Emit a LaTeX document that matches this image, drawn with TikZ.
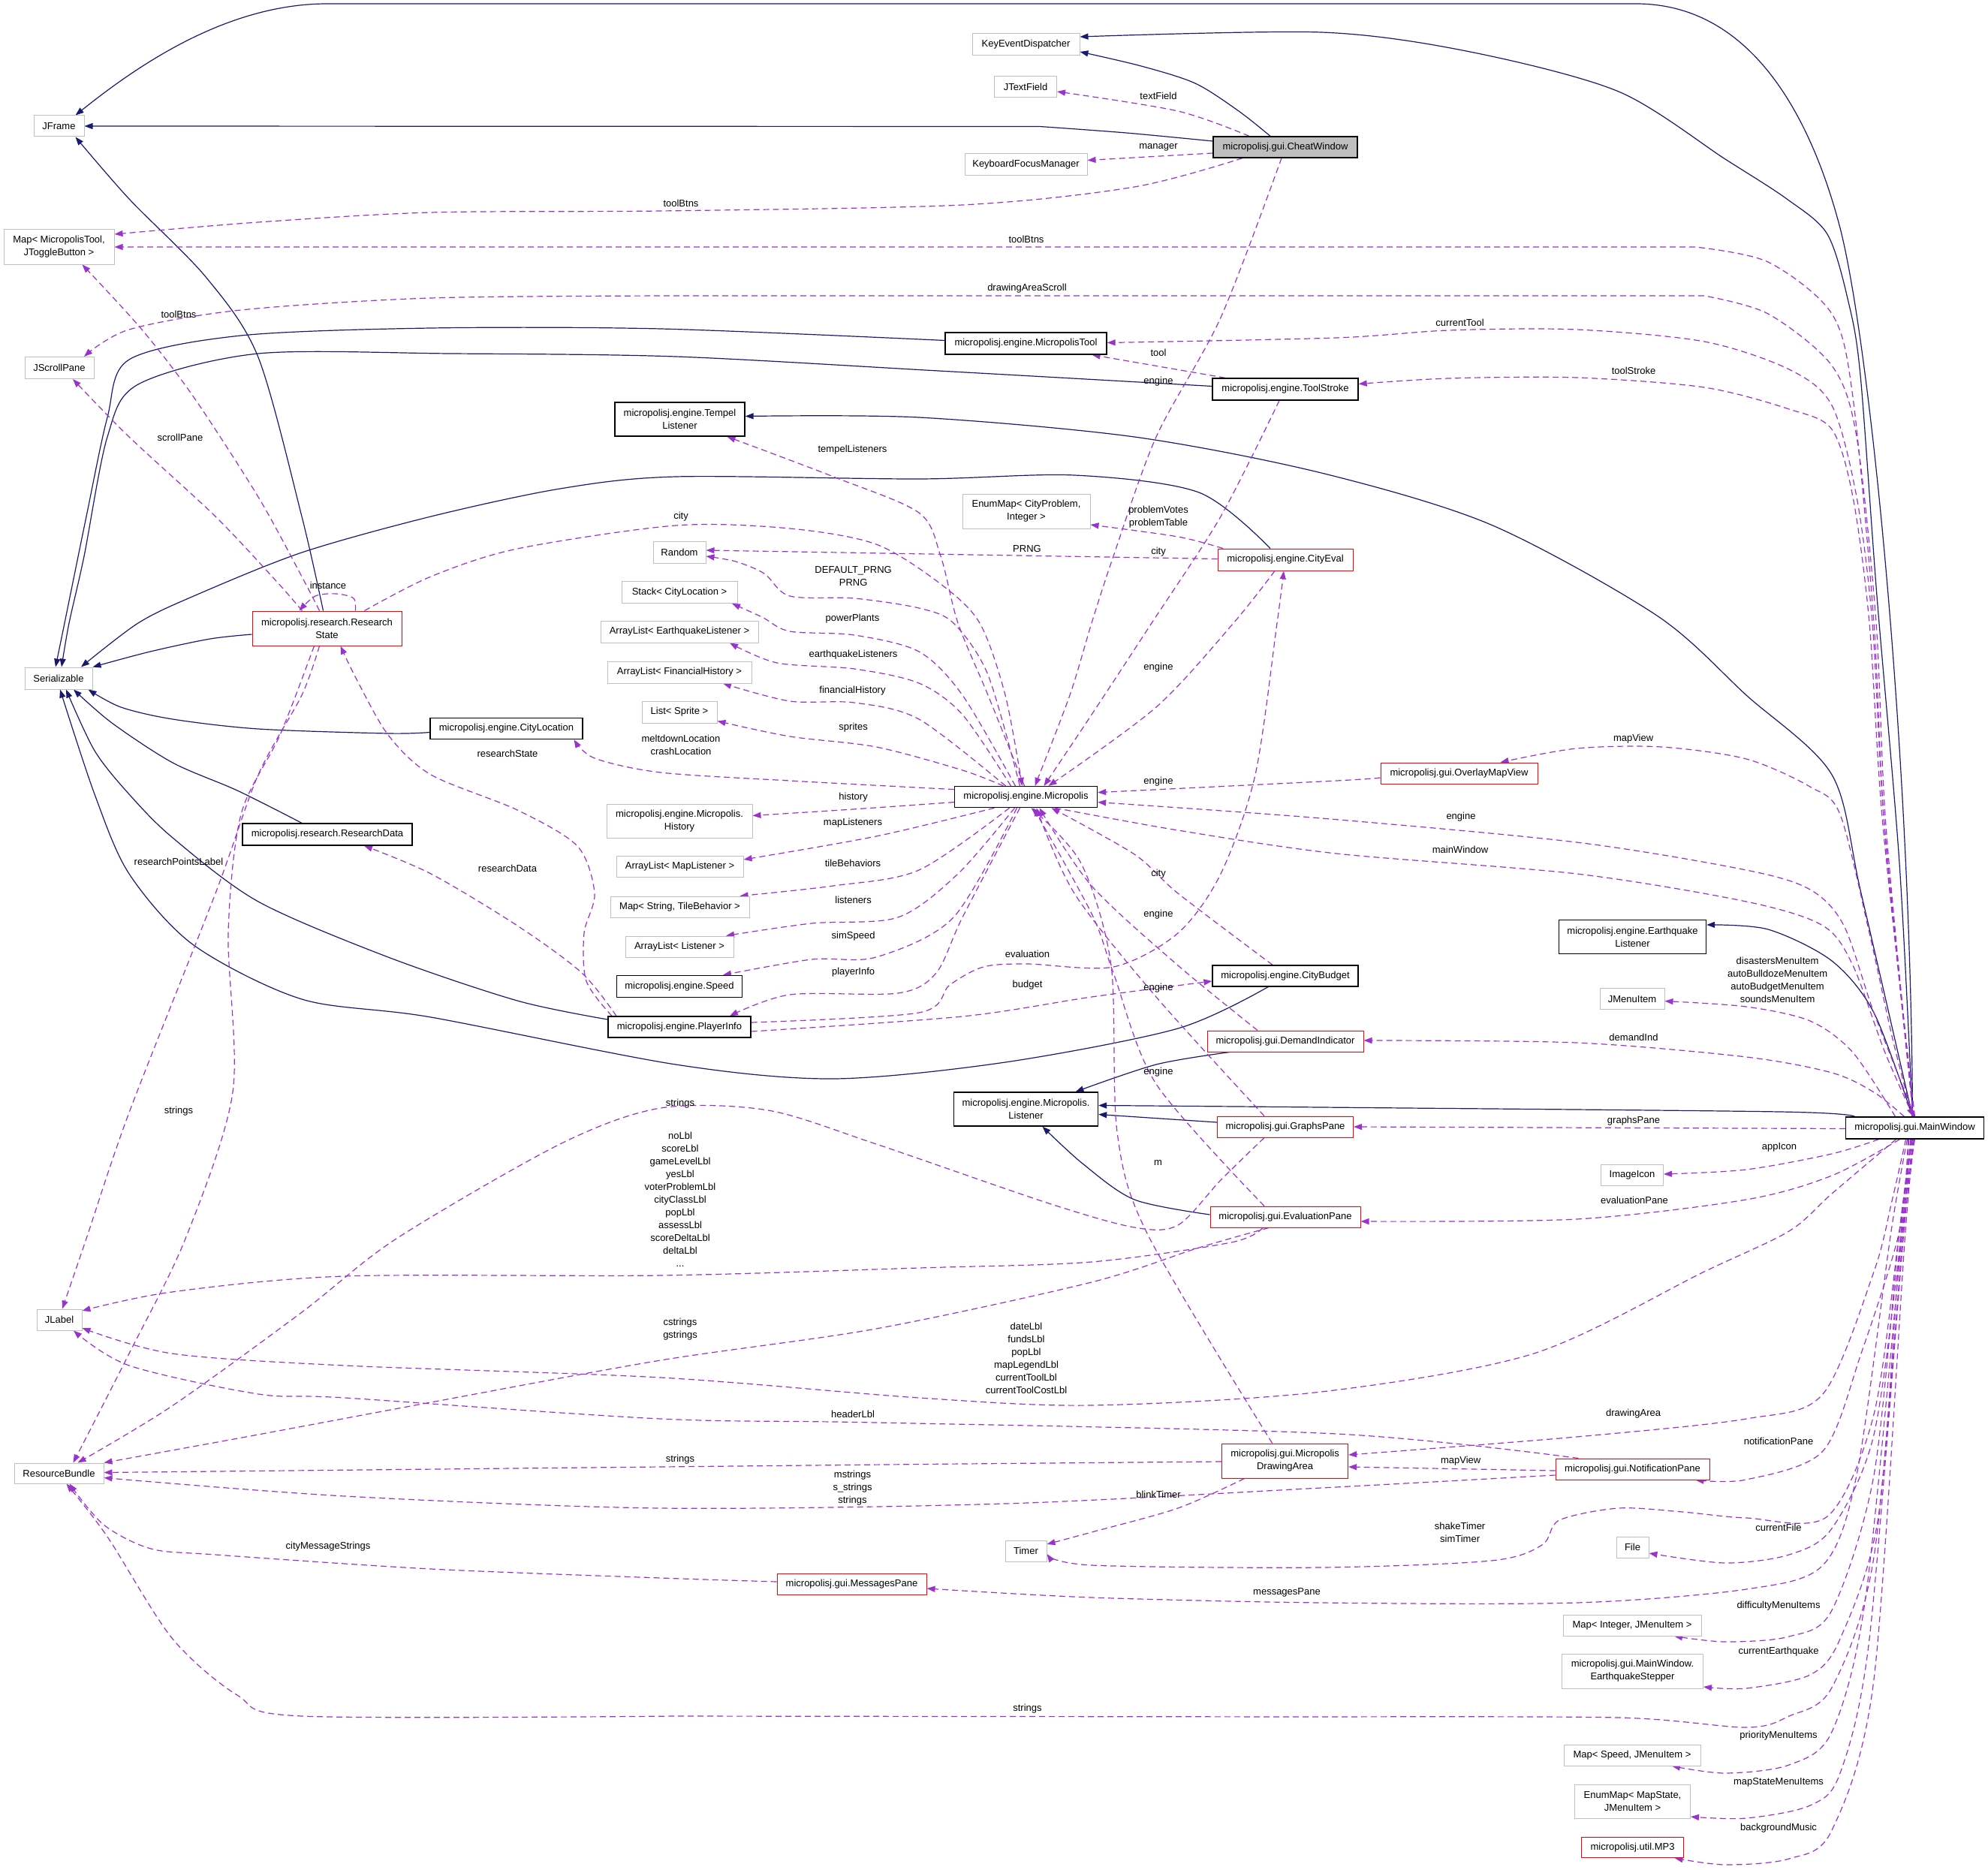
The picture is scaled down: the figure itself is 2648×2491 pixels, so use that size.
\documentclass[tikz,border=0pt]{standalone}
\usepackage{fontspec}
\setmainfont{Liberation Sans}
\usetikzlibrary{arrows.meta}
\definecolor{navyc}{HTML}{191970}
\definecolor{purpc}{HTML}{9A32CD}
\definecolor{gbord}{HTML}{BFBFBF}
\definecolor{cwfill}{HTML}{BFBFBF}
\newcommand\dgfont{\fontsize{13pt}{17pt}\selectfont}
\pgfdeclarelayer{back}\pgfdeclarelayer{edges}\pgfsetlayers{back,edges,main}
\begin{document}
\begin{tikzpicture}[x=1pt,y=-1pt,
 box/.style={rectangle, draw, fill=white, line width=1pt, inner xsep=3pt, inner ysep=2pt, align=center, font=\dgfont},
 sz/.style n args={2}{minimum width=#1pt, minimum height=#2pt},
 gbox/.style={box, draw=gbord},
 kbox/.style={box, draw=black, line width=1.3pt},
 rbox/.style={box, draw=red},
 cbox/.style={box, draw=black, fill=cwfill, line width=1.3pt},
 inh/.style={draw=navyc, line width=1.2pt, -{Triangle[length=11pt,width=8pt]}},
 dep/.style={draw=purpc, line width=1.2pt, dash pattern=on 8pt off 5pt, -{Triangle[length=11pt,width=8pt]}},
 lbl/.style={font=\dgfont, align=center, inner sep=0pt},
]
\useasboundingbox (0,0) rectangle (2648,2491);
\begin{pgfonlayer}{back}\fill[white] (0,0) rectangle (2648,2491);\end{pgfonlayer}

% ---------- nodes ----------
\node[gbox,sz={143}{29}] (KED) at (1366.5,59) {KeyEventDispatcher};
\node[gbox,sz={83}{28}] (JTF) at (1366,116) {JTextField};
\node[gbox,sz={67}{28}] (JFR) at (78.5,168) {JFrame};
\node[cbox,sz={192}{28}] (CW) at (1712,196) {micropolisj.gui.CheatWindow};
\node[gbox,sz={163}{29}] (KFM) at (1366.5,219.5) {KeyboardFocusManager};
\node[gbox,sz={147}{46}] (MAP) at (78.5,329) {Map< MicropolisTool,\\JToggleButton >};
\node[gbox,sz={92}{29}] (JSP) at (79,490) {JScrollPane};
\node[kbox,sz={215}{29}] (MT) at (1366.5,457.5) {micropolisj.engine.MicropolisTool};
\node[kbox,sz={194}{29}] (TS) at (1712,518.5) {micropolisj.engine.ToolStroke};
\node[kbox,sz={173}{45}] (TL) at (905.5,558.5) {micropolisj.engine.Tempel\\Listener};
\node[gbox,sz={170}{46}] (EMC) at (1367,681) {EnumMap< CityProblem,\\Integer >};
\node[gbox,sz={70}{29}] (RND) at (905,736) {Random};
\node[rbox,sz={180}{29}] (CE) at (1712,745.5) {micropolisj.engine.CityEval};
\node[gbox,sz={154}{29}] (STK) at (905,789) {Stack< CityLocation >};
\node[rbox,sz={199}{46}] (RS) at (435.5,837) {micropolisj.research.Research\\State};
\node[gbox,sz={210}{29}] (ALE) at (905,841.5) {ArrayList< EarthquakeListener >};
\node[gbox,sz={90}{29}] (SER) at (78,903.5) {Serializable};
\node[gbox,sz={192}{29}] (ALF) at (905,895.5) {ArrayList< FinancialHistory >};
\node[gbox,sz={100}{29}] (LSP) at (905,948.5) {List< Sprite >};
\node[kbox,sz={203}{28}] (CL) at (674.5,970.5) {micropolisj.engine.CityLocation};
\node[kbox,sz={190}{28}] (MIC) at (1366.5,1061.6) {micropolisj.engine.Micropolis};
\node[rbox,sz={209}{28}] (OMV) at (1943.5,1030) {micropolisj.gui.OverlayMapView};
\node[gbox,sz={194}{45}] (HIS) at (905,1093.5) {micropolisj.engine.Micropolis.\\History};
\node[kbox,sz={226}{29}] (RD) at (436,1111.5) {micropolisj.research.ResearchData};
\node[gbox,sz={169}{28}] (ALM) at (905.5,1154) {ArrayList< MapListener >};
\node[gbox,sz={185}{28}] (MST) at (905.5,1208) {Map< String, TileBehavior >};
\node[gbox,sz={144}{28}] (ALL) at (905,1261) {ArrayList< Listener >};
\node[kbox,sz={196}{45}] (EQL) at (2174.5,1248) {micropolisj.engine.Earthquake\\Listener};
\node[kbox,sz={167}{29}] (SPD) at (905,1314) {micropolisj.engine.Speed};
\node[kbox,sz={194}{28}] (CB) at (1712,1300) {micropolisj.engine.CityBudget};
\node[kbox,sz={190}{28}] (PI) at (905,1368) {micropolisj.engine.PlayerInfo};
\node[gbox,sz={86}{28}] (JMI) at (2174,1330.6) {JMenuItem};
\node[rbox,sz={208}{28}] (DI) at (1712,1387) {micropolisj.gui.DemandIndicator};
\node[kbox,sz={192}{45}] (LIS) at (1366.5,1477.5) {micropolisj.engine.Micropolis.\\Listener};
\node[rbox,sz={181}{28}] (GP) at (1712,1501) {micropolisj.gui.GraphsPane};
\node[kbox,sz={184}{29}] (MW) at (2550.5,1502.5) {micropolisj.gui.MainWindow};
\node[gbox,sz={83}{28}] (ICO) at (2174,1565) {ImageIcon};
\node[rbox,sz={200}{28}] (EP) at (1712,1621) {micropolisj.gui.EvaluationPane};
\node[gbox,sz={60}{28}] (JL) at (79,1758) {JLabel};
\node[rbox,sz={168}{46}] (DA) at (1711.6,1946) {micropolisj.gui.Micropolis\\DrawingArea};
\node[rbox,sz={205}{28}] (NP) at (2174.5,1957) {micropolisj.gui.NotificationPane};
\node[gbox,sz={119}{27}] (RB) at (78.5,1962.5) {ResourceBundle};
\node[gbox,sz={55}{28}] (TMR) at (1366.5,2066) {Timer};
\node[gbox,sz={43}{28}] (FIL) at (2174.5,2061) {File};
\node[rbox,sz={199}{28}] (MSG) at (1134.5,2110) {micropolisj.gui.MessagesPane};
\node[gbox,sz={184}{28}] (MIJ) at (2174,2165) {Map< Integer, JMenuItem >};
\node[gbox,sz={188}{46}] (EQS) at (2174.5,2226) {micropolisj.gui.MainWindow.\\EarthquakeStepper};
\node[gbox,sz={182}{28}] (MSJ) at (2174,2338) {Map< Speed, JMenuItem >};
\node[gbox,sz={154}{45}] (EMS) at (2174.5,2400) {EnumMap< MapState,\\JMenuItem >};
\node[rbox,sz={136}{27}] (MP3) at (2174.5,2461) {micropolisj.util.MP3};

% ---------- labels ----------
\node[lbl] (l01) at (1543,128) {textField};
\node[lbl] (l02) at (1543,196) {manager};
\node[lbl] (l03) at (907,271) {toolBtns};
\node[lbl] (l04) at (1367,319) {toolBtns};
\node[lbl] (l05) at (1368,384) {drawingAreaScroll};
\node[lbl] (l06) at (238,419) {toolBtns};
\node[lbl] (l07) at (1944.6,430) {currentTool};
\node[lbl] (l08) at (1543,470) {tool};
\node[lbl] (l09) at (2176,494) {toolStroke};
\node[lbl] (l10) at (1543,508) {engine};
\node[lbl] (l11) at (240,583) {scrollPane};
\node[lbl] (l12) at (1135.5,599) {tempelListeners};
\node[lbl] (l13) at (1543,689) {problemVotes\\problemTable};
\node[lbl] (l14) at (907,688) {city};
\node[lbl] (l15) at (1368,731) {PRNG};
\node[lbl] (l16) at (1543,735) {city};
\node[lbl] (l17) at (1136.6,767.5) {DEFAULT\_PRNG\\PRNG};
\node[lbl] (l18) at (437,780) {instance};
\node[lbl] (l19) at (1135.5,824) {powerPlants};
\node[lbl] (l20) at (1136.6,872) {earthquakeListeners};
\node[lbl] (l21) at (1543,889) {engine};
\node[lbl] (l22) at (1135.5,920) {financialHistory};
\node[lbl] (l23) at (1136.6,969) {sprites};
\node[lbl] (l24) at (2175.6,984.6) {mapView};
\node[lbl] (l25) at (907,992) {meltdownLocation\\crashLocation};
\node[lbl] (l26) at (676,1004) {researchState};
\node[lbl] (l27) at (1543,1041) {engine};
\node[lbl] (l28) at (1136.6,1062.5) {history};
\node[lbl] (l29) at (1946,1088) {engine};
\node[lbl] (l30) at (1136,1096) {mapListeners};
\node[lbl] (l31) at (1945,1132) {mainWindow};
\node[lbl] (l32) at (238,1148) {researchPointsLabel};
\node[lbl] (l33) at (1136,1150) {tileBehaviors};
\node[lbl] (l34) at (676,1157) {researchData};
\node[lbl] (l35) at (1543,1164) {city};
\node[lbl] (l36) at (1136.6,1199) {listeners};
\node[lbl] (l37) at (1543,1218.6) {engine};
\node[lbl] (l38) at (1136.6,1247) {simSpeed};
\node[lbl] (l39) at (1368.5,1270.5) {evaluation};
\node[lbl] (l40) at (1136.6,1295) {playerInfo};
\node[lbl] (l41) at (2367.6,1305.5) {disastersMenuItem\\autoBulldozeMenuItem\\autoBudgetMenuItem\\soundsMenuItem};
\node[lbl] (l42) at (1368.5,1312) {budget};
\node[lbl] (l43) at (1543,1316.6) {engine};
\node[lbl] (l44) at (2176,1382) {demandInd};
\node[lbl] (l45) at (1543,1427.7) {engine};
\node[lbl] (l46) at (906,1470.6) {strings};
\node[lbl] (l47) at (238,1480) {strings};
\node[lbl] (l48) at (2176,1493) {graphsPane};
\node[lbl] (l49) at (2370,1528) {appIcon};
\node[lbl] (l50) at (1542.5,1549) {m};
\node[lbl] (l51) at (906,1597.5) {noLbl\\scoreLbl\\gameLevelLbl\\yesLbl\\voterProblemLbl\\cityClassLbl\\popLbl\\assessLbl\\scoreDeltaLbl\\deltaLbl\\...};
\node[lbl] (l52) at (2177,1599) {evaluationPane};
\node[lbl] (l53) at (906,1771) {cstrings\\gstrings};
\node[lbl] (l54) at (1367,1809) {dateLbl\\fundsLbl\\popLbl\\mapLegendLbl\\currentToolLbl\\currentToolCostLbl};
\node[lbl] (l55) at (2175.6,1883) {drawingArea};
\node[lbl] (l56) at (1136,1884) {headerLbl};
\node[lbl] (l57) at (2369,1920) {notificationPane};
\node[lbl] (l58) at (906,1944) {strings};
\node[lbl] (l59) at (1945.7,1946) {mapView};
\node[lbl] (l60) at (1135.5,1982) {mstrings\\s\_strings\\strings};
\node[lbl] (l61) at (1543,1990.5) {blinkTimer};
\node[lbl] (l62) at (2369,2035) {currentFile};
\node[lbl] (l63) at (1944.6,2041) {shakeTimer\\simTimer};
\node[lbl] (l64) at (437,2060.5) {cityMessageStrings};
\node[lbl] (l65) at (1714,2121) {messagesPane};
\node[lbl] (l66) at (2369,2139) {difficultyMenuItems};
\node[lbl] (l67) at (2369,2200) {currentEarthquake};
\node[lbl] (l68) at (1368.5,2276.5) {strings};
\node[lbl] (l69) at (2369,2312) {priorityMenuItems};
\node[lbl] (l70) at (2369,2374) {mapStateMenuItems};
\node[lbl] (l71) at (2369,2435) {backgroundMusic};

\begin{pgfonlayer}{edges}
% ---------- inheritance ----------
\draw[inh] ([xshift=-3pt]MW.north) .. controls (2545,1000) and (2490,450) .. (2450,300) .. controls (2410,150) and (2330,5) .. (2179,5) -- (436,5) .. controls (300,5) and (180,90) .. ([xshift=22pt]JFR.north);
\draw[inh] plot[smooth,tension=.5] coordinates {([yshift=8pt]CW.west) (1500,177) (1385,168.5)} -- (JFR.east);
\draw[inh] plot[smooth,tension=.5] coordinates {([xshift=-20pt]CW.north) (1650,148) (1592,111) (1520,88) ([yshift=-10pt]KED.east)};
\draw[inh] plot[smooth,tension=.5] coordinates {([xshift=-3pt]MW.north) (2530,1150) (2500,794) (2478,500) (2462,402) (2434,312) (2380,265) (2298,212) (2156,122) (1958,69) (1760,43) ([yshift=10pt]KED.east)};
\draw[inh] plot[smooth,tension=.5] coordinates {([xshift=-5pt]RS.north) (402,688) (344,476) (275,370) (172,265) ([xshift=22pt]JFR.south)};
\draw[inh] plot[smooth,tension=.5] coordinates {([yshift=-8pt]RS.west) (280,851) (200,868) (SER.north east)};
\draw[inh] plot[smooth,tension=.5] coordinates {([yshift=4pt]MT.west) (880,438) (574,437) (321,447) (172,479) (143,556) (115,688) (86,830) ([xshift=-4pt]SER.north)};
\draw[inh] plot[smooth,tension=.5] coordinates {([yshift=4pt]TS.west) (1250,494) (900,475) (600,471) (344,471) (184,512) (143,582) (112,741) (92,830) ([xshift=4pt]SER.north)};
\draw[inh] plot[smooth,tension=.5] coordinates {([xshift=-20pt]CE.north) (1597,656) (1431,633) (1224,638) (900,635) (746,651) (574,688) (402,736) (258,794) (184,830) ([xshift=30pt]SER.north)};
\draw[inh] plot[smooth,tension=.5] coordinates {([yshift=-5pt]CL.west) (517,977) (344,971) (230,958) (161,942) ([xshift=-6pt]SER.south east)};
\draw[inh] plot[smooth,tension=.5] coordinates {([xshift=-34pt]RD.north) (316,1053) (230,1016) (149,963) ([xshift=20pt]SER.south)};
\draw[inh] plot[smooth,tension=.5] coordinates {([yshift=10pt]PI.west) (689,1333) (517,1275) (344,1201) (230,1116) (172,1058) (126,1000) ([xshift=10pt]SER.south)};
\draw[inh] plot[smooth,tension=.5] coordinates {([xshift=-23pt]CB.south) (1569,1370) (1339,1415) (1110,1437) (900,1418) (574,1355) (402,1331) (258,1259) (172,1164) (126,1058) ([xshift=2pt]SER.south)};
\draw[inh] plot[smooth,tension=.5] coordinates {([xshift=-3pt]MW.north) (2479,1190) (2440,1032) (2326,926) (2207,820) (1986,699) (1760,630) (1511,582) (1224,556) ([yshift=4pt]TL.east)};
\draw[inh] plot[smooth,tension=.5] coordinates {([xshift=-3pt]MW.north) (2496,1349) (2440,1280) (2355,1238) ([yshift=16pt]EQL.east)};
\draw[inh] plot[smooth,tension=.5] coordinates {([xshift=-80pt]MW.north) (2371,1481) (1760,1475) ([yshift=5pt]LIS.east)};
\draw[inh] plot[smooth,tension=.5] coordinates {([xshift=-74pt]DI.south) (1540,1418) ([xshift=66pt]LIS.north)};
\draw[inh] ([yshift=6pt]GP.west) -- ([yshift=-7pt]LIS.east);
\draw[inh] plot[smooth,tension=.5] coordinates {([yshift=3pt]EP.west) (1511,1598) (1442,1550) ([xshift=22pt]LIS.south)};

% ---------- usage ----------
\draw[dep] plot[smooth,tension=.5] coordinates {([xshift=-48pt]CW.north) (1569,148) ([yshift=-6pt]JTF.east)};
\draw[dep] ([yshift=-8pt]CW.west) -- ([yshift=6pt]KFM.east);
\draw[dep] plot[smooth,tension=.5] coordinates {([xshift=-57pt]CW.south) (1511,249) (1282,273) (880,281) (574,283) (344,296) ([yshift=17pt]MAP.east)};
\draw[dep] plot[smooth,tension=.5] coordinates {([xshift=-2pt]MW.north) (2510,1100) (2496,830) (2468,529) (2440,418) (2355,349) (2258,329)} -- (MAP.east);
\draw[dep] plot[smooth,tension=.5] coordinates {([xshift=-2pt]MW.north) (2512,1100) (2499,830) (2473,582) (2440,487) (2355,418) (2270,394)} -- plot[smooth,tension=.5] coordinates {(900,394) (574,397) (321,413) (172,439) ([xshift=33pt]JSP.north)};
\draw[dep] plot[smooth,tension=.5] coordinates {([xshift=-1pt]MW.north) (2510,1100) (2494,830) (2473,662) (2440,540) (2383,492) (2270,455) (2100,439) (1930,440) (1780,450) ([yshift=1pt]MT.east)};
\draw[dep] plot[smooth,tension=.5] coordinates {(MW.north) (2508,1100) (2490,830) (2468,662) (2440,572) (2383,545) (2270,516) (2100,503) (1930,504) ([yshift=7pt]TS.east)};
\draw[dep] ([xshift=-80pt]TS.north) -- ([xshift=88pt]MT.south);
\draw[dep] plot[smooth,tension=.5] coordinates {([xshift=-8pt]TS.south) (1626,688) (1534,830) (1454,952) ([xshift=24pt]MIC.north)};
\draw[dep] plot[smooth,tension=.5] coordinates {([xshift=-5pt]CW.south) (1626,423) (1540,582) (1483,741) (1454,830) (1425,926) ([xshift=12pt]MIC.north)};
\draw[dep] plot[smooth,tension=.5] coordinates {([xshift=-2pt]MIC.north) (1316,926) (1276,830) (1253,741) (1224,683) (1110,635) ([xshift=63pt]TL.south)};
\draw[dep] plot[smooth,tension=.5] coordinates {([xshift=50pt]RS.north) (574,768) (689,731) (900,700) (1052,704) (1167,725) (1253,778) (1305,830) (1339,926) ([xshift=-5pt]MIC.north)};
\draw[dep] ([yshift=1pt]CE.west) -- ([yshift=3pt]RND.east);
\draw[dep] plot[smooth,tension=.5] coordinates {([xshift=-14pt]CE.south) (1643,830) (1540,942) ([xshift=30pt]MIC.north)};
\draw[dep] plot[smooth,tension=.5] coordinates {([yshift=6pt]PI.east) (1224,1349) (1265,1312) (1310,1288) (1368,1284) (1483,1288) (1569,1243) (1626,1164) (1672,1032) (1701,830) ([xshift=-2pt]CE.south)};
\draw[dep] plot[smooth,tension=.5] coordinates {([xshift=-8pt]MIC.north) (1316,899) (1270,830) (1224,810) (1138,797) (1052,794) (1018,764) (980,748) ([yshift=-5pt]RND.east)};
\draw[dep] plot[smooth,tension=.5] coordinates {([xshift=-14pt]MIC.north) (1282,926) (1224,868) (1138,846) (1052,841) (1015,822) ([xshift=70pt]STK.south)};
\draw[dep] plot[smooth,tension=.5] coordinates {([xshift=-20pt]MIC.north) (1282,952) (1224,910) (1138,891) (1035,883) ([xshift=67pt]ALE.south)};
\draw[dep] plot[smooth,tension=.5] coordinates {([xshift=-27pt]MIC.north) (1224,958) (1138,936) (1052,934) ([xshift=58pt]ALF.south)};
\draw[dep] plot[smooth,tension=.5] coordinates {([xshift=-30pt]MIC.north) (1282,1026) (1167,995) (1052,981) ([yshift=-12pt]LSP.east)};
\draw[dep] plot[smooth,tension=.5] coordinates {([yshift=10pt]MIC.west) (1052,1040) (880,1029) (792,1010) ([xshift=90pt]CL.south)};
\draw[dep] plot[smooth,tension=.5] coordinates {([yshift=-7pt]MIC.west) (1136,1078) ([yshift=7pt]HIS.east)};
\draw[dep] plot[smooth,tension=.5] coordinates {([xshift=-42pt]MIC.south) (1167,1114) ([yshift=9pt]ALM.east)};
\draw[dep] plot[smooth,tension=.5] coordinates {([xshift=-22pt]MIC.south) (1224,1159) (1110,1180) ([xshift=80pt]MST.north)};
\draw[dep] plot[smooth,tension=.5] coordinates {([xshift=-15pt]MIC.south) (1276,1164) (1196,1222) (1081,1230) ([xshift=62pt]ALL.north)};
\draw[dep] plot[smooth,tension=.5] coordinates {([xshift=-12pt]MIC.south) (1270,1222) (1167,1275) (1081,1278) ([xshift=58pt]SPD.north)};
\draw[dep] plot[smooth,tension=.5] coordinates {([xshift=-8pt]MIC.south) (1282,1222) (1247,1296) (1196,1323) (1052,1325) ([xshift=67pt]PI.north)};
\draw[dep] plot[smooth,tension=.5] coordinates {([yshift=-6pt]PI.east) (1282,1354) (1454,1328) ([yshift=-7pt]CB.west)};
\draw[dep] plot[smooth,tension=.5] coordinates {([xshift=-90pt]PI.north) (781,1307) (778,1243) (792,1190) (769,1127) (689,1079) (574,1032) (517,979) (475,905) ([xshift=18pt]RS.south)};
\draw[dep] plot[smooth,tension=.5] coordinates {([xshift=-84pt]PI.north) (775,1296) (689,1233) (574,1164) ([xshift=49pt]RD.south)};
\draw[dep] plot[smooth,tension=.5] coordinates {([xshift=-10pt]RS.north) (402,768) (344,662) (258,529) (189,439) ([xshift=31pt]MAP.south)};
\draw[dep] plot[smooth,tension=.5] coordinates {([xshift=-33pt]RS.north) (367,773) (287,688) (172,582) ([xshift=18pt]JSP.south)};
\draw[dep] plot[smooth,tension=.5] coordinates {([xshift=38pt]RS.north) (471,797) (448,791) (420,794) ([xshift=-37pt]RS.north)};
\draw[dep] plot[smooth,tension=.5] coordinates {([xshift=-10pt]RS.south) (402,926) (344,1032) (287,1190) (172,1482) (115,1650) ([xshift=4pt]JL.north)};
\draw[dep] plot[smooth,tension=.5] coordinates {([xshift=-17pt]RS.south) (373,979) (321,1085) (304,1243) (310,1455) (247,1650) (172,1803) ([xshift=19pt]RB.north)};
\draw[dep] plot[smooth,tension=.5] coordinates {([xshift=-30pt]EP.south) (1640,1655) (1454,1681) (1224,1689) (880,1699) (459,1700) (229,1721) ([yshift=12pt]JL.east)};
\draw[dep] plot[smooth,tension=.5] coordinates {([xshift=-22pt]EP.south) (1597,1662) (1454,1708) (1167,1770) (880,1812) (574,1868) (344,1911) (RB.north east)};
\draw[dep] plot[smooth,tension=.5] coordinates {([xshift=-25pt]MW.south) (2440,1590) (2383,1640) (2270,1694) (2043,1803) (1760,1854) (1454,1872) (1224,1862) (880,1835) (459,1819) (229,1803) ([yshift=-11pt]JL.east)};
\draw[dep] plot[smooth,tension=.5] coordinates {([xshift=-72pt]NP.north) (1780,1910) (1167,1895) (880,1890) (459,1862) (344,1857) (172,1819) ([xshift=19pt]JL.south)};
\draw[dep] plot[smooth,tension=.5] coordinates {([yshift=-1pt]DA.west) (1282,1950) (880,1954) ([yshift=1pt]RB.east)};
\draw[dep] plot[smooth,tension=.5] coordinates {([yshift=-8pt]NP.west) (1760,1982) (1339,2003) (880,2009) (459,1993) ([yshift=-6pt]RB.east)};
\draw[dep] plot[smooth,tension=.5] coordinates {([xshift=-54pt]DA.south) (1569,2009) (1454,2041) ([yshift=9pt]TMR.east)};
\draw[dep] plot[smooth,tension=.5] coordinates {([xshift=-5pt]MW.south) (2530,1640) (2496,1884) (2434,2020) (2326,2022) (2241,2014) (2156,2009) (2077,2025) (2054,2058) (1986,2079) (1760,2088) (1454,2085) ([yshift=-4pt]TMR.east)};
\draw[dep] plot[smooth,tension=.5] coordinates {([xshift=-8pt]MW.south) (2533,1640) (2496,1911) (2440,2036) (2383,2071) (2298,2082) ([yshift=-8pt]FIL.east)};
\draw[dep] plot[smooth,tension=.5] coordinates {([xshift=-10pt]MW.south) (2519,1640) (2473,1965) (2428,2085) (2326,2117) (2100,2135) (1760,2135) (1454,2128) ([yshift=-6pt]MSG.east)};
\draw[dep] plot[smooth,tension=.5] coordinates {([yshift=3pt]MSG.west) (880,2102) (574,2090) (287,2071) (201,2063) (138,2031) ([xshift=14pt]RB.south)};
\draw[dep] plot[smooth,tension=.5] coordinates {([xshift=-6pt]MW.south) (2535,1640) (2496,2074) (2440,2248) (2383,2286) (2326,2301) (2156,2288) (1760,2287)} -- plot[smooth,tension=.5] coordinates {(900,2286) (402,2286) (316,2258) (229,2182) (143,2047) ([xshift=10pt]RB.south)};
\draw[dep] plot[smooth,tension=.5] coordinates {([xshift=-4pt]MW.south) (2530,1640) (2496,1965) (2440,2145) (2383,2180) (2298,2187) ([xshift=56pt]MIJ.south)};
\draw[dep] plot[smooth,tension=.5] coordinates {([xshift=-3pt]MW.south) (2532,1640) (2502,2020) (2451,2183) (2411,2231) (2326,2249) ([yshift=-21pt]EQS.east)};
\draw[dep] plot[smooth,tension=.5] coordinates {([xshift=-2pt]MW.south) (2534,1640) (2485,2128) (2440,2307) (2383,2351) (2298,2362) ([xshift=53pt]MSJ.south)};
\draw[dep] plot[smooth,tension=.5] coordinates {([xshift=-1pt]MW.south) (2536,1640) (2490,2183) (2451,2362) (2411,2405) (2326,2422) ([yshift=-20pt]EMS.east)};
\draw[dep] plot[smooth,tension=.5] coordinates {(MW.south) (2538,1640) (2496,2237) (2440,2438) (2383,2476) (2298,2484) ([xshift=56pt]MP3.south)};
\draw[dep] plot[smooth,tension=.5] coordinates {([xshift=-12pt]MW.south) (2520,1600) (2496,1694) (2428,1857) (2326,1890) (2100,1914) ([yshift=8pt]DA.east)};
\draw[dep] plot[smooth,tension=.5] coordinates {([xshift=-9pt]MW.south) (2530,1640) (2479,1803) (2428,1933) (2326,1971) ([xshift=84pt]NP.south)};
\draw[dep] ([yshift=-2pt]NP.west) -- ([yshift=-8pt]DA.east);
\draw[dep] plot[smooth,tension=.5] coordinates {([xshift=-3pt]MW.north) (2520,1380) (2490,1243) (2451,1085) (2411,1048) (2326,1011) (2213,995) (2100,997) ([xshift=55pt]OMV.north)};
\draw[dep] plot[smooth,tension=.5] coordinates {(MW.north) (2496,1349) (2456,1233) (2411,1185) (2326,1159) (2100,1122) (1760,1090) ([yshift=-7pt]MIC.east)};
\draw[dep] plot[smooth,tension=.5] coordinates {([xshift=39pt]MIC.south) (1569,1106) (1780,1137) (2100,1164) (2326,1201) (2428,1233) (2468,1286) (2510,1400) ([xshift=-2pt]MW.north)};
\draw[dep] plot[smooth,tension=.5] coordinates {([yshift=-6pt]OMV.west) (1780,1040) ([yshift=6pt]MIC.east)};
\draw[dep] plot[smooth,tension=.5] coordinates {([xshift=-26pt]MW.north) (2468,1402) (2411,1360) (2326,1341) ([yshift=-3pt]JMI.east)};
\draw[dep] plot[smooth,tension=.5] coordinates {([xshift=-14pt]MW.north) (2496,1455) (2440,1429) (2326,1408) (2100,1389) ([yshift=1pt]DI.east)};
\draw[dep] ([yshift=-1pt]MW.west) -- (GP.east);
\draw[dep] plot[smooth,tension=.5] coordinates {([xshift=-48pt]MW.south) (2440,1537) (2326,1558) ([yshift=1pt]ICO.east)};
\draw[dep] plot[smooth,tension=.5] coordinates {([xshift=-20pt]MW.south) (2440,1566) (2326,1598) (2100,1624) ([yshift=-6pt]EP.east)};
\draw[dep] plot[smooth,tension=.5] coordinates {([xshift=-17pt]CB.north) (1569,1190) (1511,1138) ([xshift=34pt]MIC.south)};
\draw[dep] plot[smooth,tension=.5] coordinates {([xshift=-37pt]DI.north) (1569,1286) (1454,1180) ([xshift=18pt]MIC.south)};
\draw[dep] plot[smooth,tension=.5] coordinates {([xshift=-28pt]GP.north) (1540,1328) (1431,1190) ([xshift=14pt]MIC.south)};
\draw[dep] plot[smooth,tension=.5] coordinates {([xshift=-28pt]EP.north) (1540,1444) (1483,1296) (1454,1217) ([xshift=10pt]MIC.south)};
\draw[dep] plot[smooth,tension=.5] coordinates {([xshift=-17pt]DA.north) (1529,1645) (1488,1508) (1480,1286) (1440,1150) ([xshift=7pt]MIC.south)};
\draw[dep] plot[smooth,tension=.5] coordinates {([xshift=-28pt]GP.south) (1626,1572) (1569,1632) (1511,1635) (1397,1603) (1167,1524) (1023,1479) (880,1476) (746,1524) (528,1650) (402,1748) (229,1873) ([xshift=25pt]RB.north)};
\draw[dep] plot[smooth,tension=.5] coordinates {([xshift=-83pt]CE.north) (1569,715) ([yshift=-18pt]EMC.east)};
\end{pgfonlayer}
\end{tikzpicture}
\end{document}
